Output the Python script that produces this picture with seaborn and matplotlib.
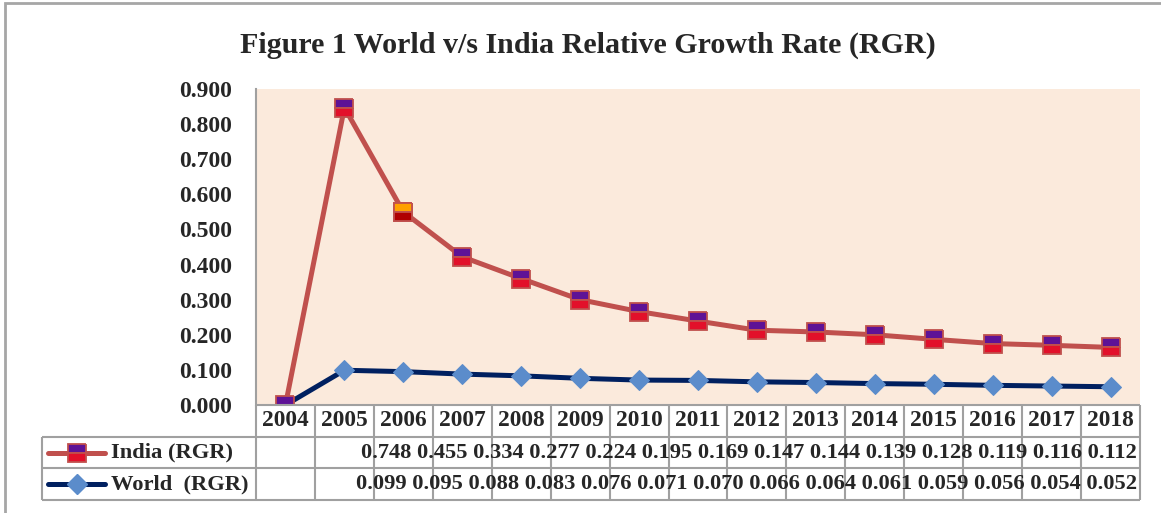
"""
World v/s India Relative Growth Rate (RGR) - stacked line chart with data table.
Run: python plot.py
"""

import numpy as np
import pandas as pd
import matplotlib
matplotlib.use("Agg")
import matplotlib.pyplot as plt
import matplotlib.transforms as mtransforms
from matplotlib.lines import Line2D
from matplotlib.patches import Rectangle
import seaborn as sns

years = [2004, 2005, 2006, 2007, 2008, 2009, 2010, 2011, 2012, 2013, 2014, 2015, 2016, 2017, 2018]
india = [None, 0.748, 0.455, 0.334, 0.277, 0.224, 0.195, 0.169, 0.147, 0.144, 0.139, 0.128, 0.119, 0.116, 0.112]
world = [None, 0.099, 0.095, 0.088, 0.083, 0.076, 0.071, 0.070, 0.066, 0.064, 0.061, 0.059, 0.056, 0.054, 0.052]
y_ticks = [0.0, 0.1, 0.2, 0.3, 0.4, 0.5, 0.6, 0.7, 0.8, 0.9]

sns.set_style("white")
plt.rcParams.update({
    "font.family": ["Liberation Serif", "DejaVu Serif"],
    "font.weight": "bold",
})

W, H = 1161, 513
INDIA_LINE = "#C0504D"
WORLD_LINE = "#002060"
WORLD_MARK = "#5B8CCB"
GRID = "#A0A0A0"
FS = 16.2

df = pd.DataFrame({"year": years, "India": india, "World": world}).astype(float)
# Excel plots blank cells as zero; series are stacked (India sits on World)
df["World_plot"] = df["World"].fillna(0)
df["India_plot"] = df["India"].fillna(0) + df["World_plot"]

fig = plt.figure(figsize=(W / 100, H / 100), dpi=100)
fig.add_artist(Rectangle((5 / W, -0.1), 1.2, 1.1 - 3 / H, transform=fig.transFigure,
                         fill=False, edgecolor="#A6A6A6", linewidth=2))
fig.text(588 / W, 1 - 45 / H, "Figure 1 World v/s India Relative Growth Rate (RGR)",
         ha="center", va="center", fontsize=21.6, fontweight="bold")

ax = fig.add_axes([256 / W, 1 - 405 / H, 884 / W, 316 / H])
ax_t = fig.add_axes([256 / W, 1 - 500 / H, 884 / W, 95 / H], sharex=ax)

ax.set_facecolor("#FBEADC")

india_style = dict(marker="s", markersize=12.5, fillstyle="top",
                   markerfacecolor="#5E1296", markerfacecoloralt="#E2102A",
                   markeredgecolor=INDIA_LINE, markeredgewidth=1.3)
world_style = dict(marker="D", markersize=10.5, markerfacecolor=WORLD_MARK,
                   markeredgecolor=WORLD_MARK)

sns.lineplot(data=df, x="year", y="World_plot", ax=ax, color=WORLD_LINE,
             linewidth=3.6, zorder=3, **world_style)
sns.lineplot(data=df, x="year", y="India_plot", ax=ax, color=INDIA_LINE,
             linewidth=3.6, zorder=4, **india_style)
# the 2006 marker is shaded orange instead of purple
hi = df[df["year"] == 2006]
ax.plot(hi["year"], hi["India_plot"], linestyle="none", marker="s", markersize=12.5,
        fillstyle="top", markerfacecolor="#FFA000", markerfacecoloralt="#B00000",
        markeredgecolor=INDIA_LINE, markeredgewidth=1.3, zorder=5)

ax.set_xlim(years[0] - 0.5, years[-1] + 0.5)
ax.set_ylim(0, 0.9)
ax.set_yticks(y_ticks)
ax.set_yticklabels([f"{v:.3f}" for v in y_ticks], fontsize=17, fontweight="bold")
ax.tick_params(axis="y", length=0, pad=17)
ax.tick_params(axis="x", bottom=False, labelbottom=False)
ax.set_xlabel("")
ax.set_ylabel("")
for s in ["top", "right", "bottom"]:
    ax.spines[s].set_visible(False)
ax.spines["left"].set_color(GRID)
ax.spines["left"].set_linewidth(1.5)

# --- data table ---
ax_t.set_ylim(0, 3)
ax_t.axis("off")
blend = mtransforms.blended_transform_factory(ax_t.transAxes, ax_t.transData)
left = (42 - 256) / 884

ax_t.hlines([0, 1, 2], left, 1, transform=blend, colors=GRID, linewidth=1.5, clip_on=False)
ax_t.hlines([3], 0, 1, transform=blend, colors=GRID, linewidth=1.5, clip_on=False)
bounds = np.arange(years[0] - 0.5, years[-1] + 1)
ax_t.vlines(bounds, 0, 3, colors=GRID, linewidth=1.5, clip_on=False)
ax_t.vlines([left], 0, 2, transform=blend, colors=GRID, linewidth=1.5, clip_on=False)

for yr in years:
    ax_t.text(yr, 2.5, str(yr), ha="center", va="center", fontsize=16.8, fontweight="bold")

rows = [("India (RGR)", india, 1.5, INDIA_LINE, india_style),
        ("World  (RGR)", world, 0.5, WORLD_LINE, world_style)]
for label, vals, yrow, lc, mstyle in rows:
    txt = " ".join(f"{v:.3f}" for v in vals if v is not None)
    ax_t.text((1137 - 256) / 884, yrow, txt, transform=blend, ha="right",
              va="center", fontsize=FS, fontweight="bold")
    ax_t.text((111 - 256) / 884, yrow, label, transform=blend, ha="left",
              va="center", fontsize=16.2, fontweight="bold")
    sw = Line2D([(48 - 256) / 884, (105 - 256) / 884], [yrow, yrow], transform=blend,
                color=lc, linewidth=3.6, clip_on=False)
    ax_t.add_line(sw)
    mk = Line2D([(76.5 - 256) / 884], [yrow], transform=blend, linestyle="none",
                clip_on=False, **mstyle)
    ax_t.add_line(mk)

fig.savefig("out.png", dpi=100)
